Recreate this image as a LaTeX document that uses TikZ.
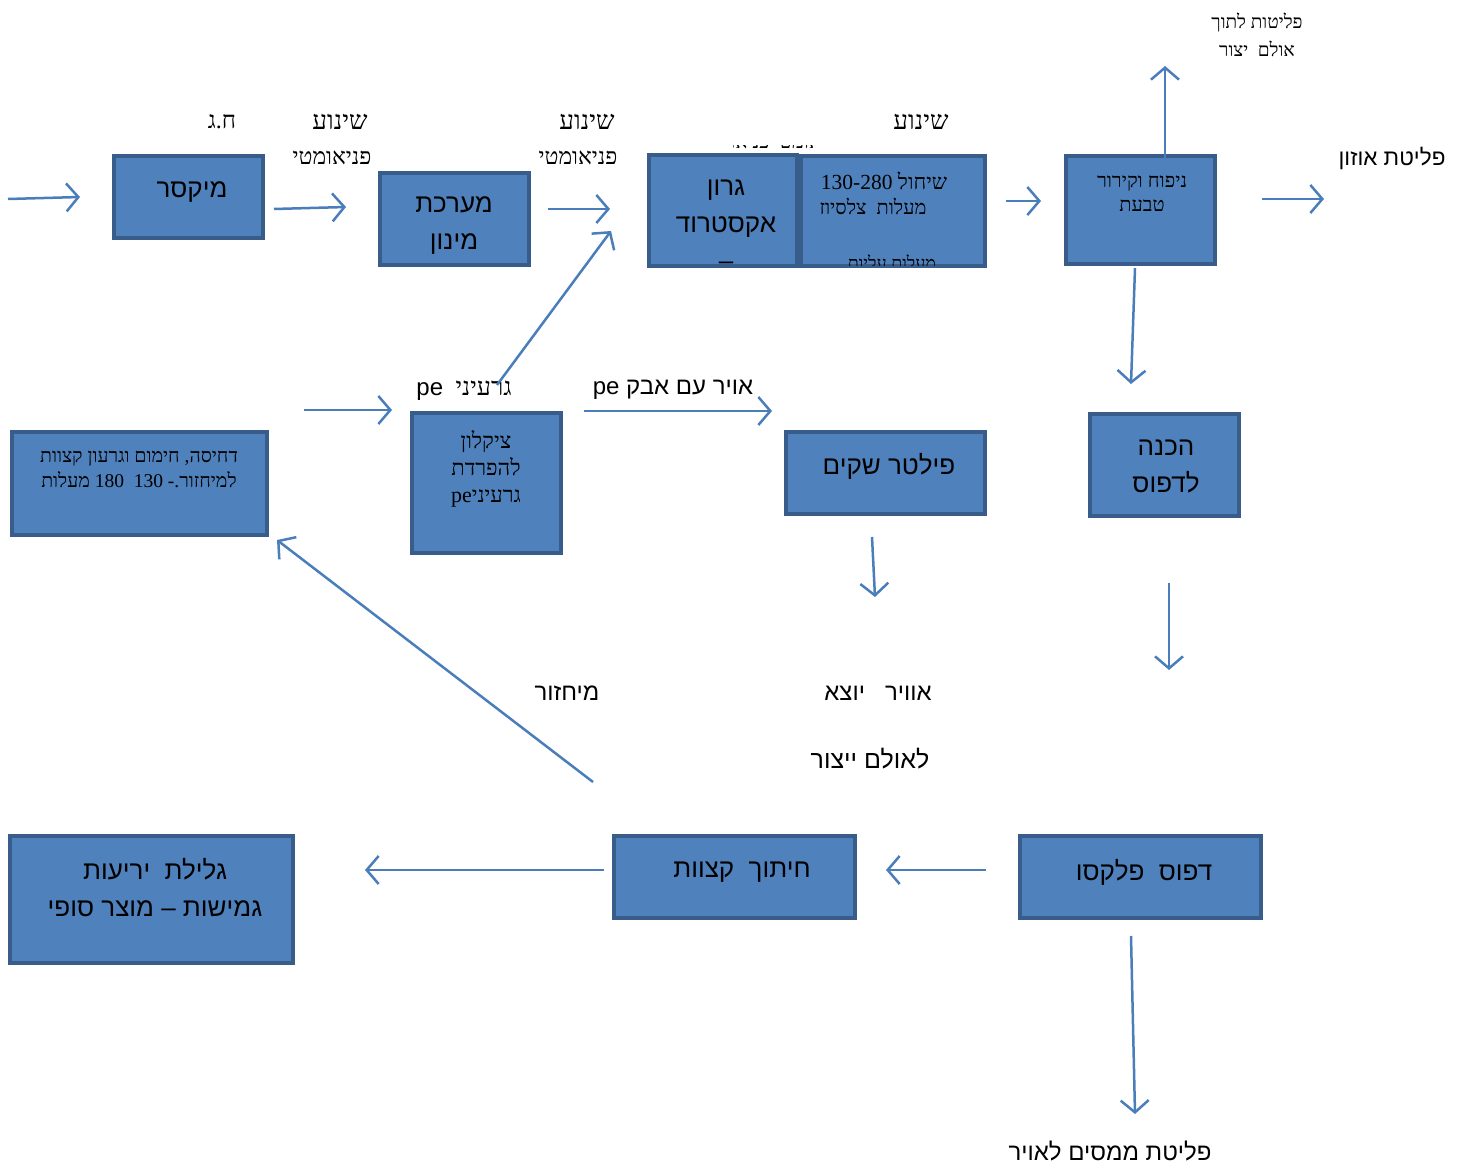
\documentclass[tikz,border=0pt]{standalone}
\usepackage{fontspec}
\usetikzlibrary{arrows.meta}
\setmainfont{Liberation Serif}
\newfontfamily\hsans[Script=Hebrew]{Liberation Sans}
\newfontfamily\hserif[Script=Hebrew]{Liberation Serif}
\TeXXeTstate=1
\newcommand\heb[1]{\beginR #1\endR}
\newcommand\lat[1]{\beginL #1\endL{}}
\definecolor{boxfill}{HTML}{4F81BD}
\definecolor{boxedge}{HTML}{385D8A}
\definecolor{arrowc}{HTML}{4A7EBB}
\tikzset{
  box/.style={draw=boxedge, fill=boxfill, line width=4pt, inner sep=0pt, outer sep=0pt},
  arr/.style={draw=arrowc, line width=2.5pt, -{Straight Barb[length=12pt,width=28pt]}},
  bigtxt/.style={font=\hsans\fontsize{26}{37}\selectfont, align=center, inner sep=0pt},
  smalltxt/.style={font=\hserif\fontsize{19.5}{25}\selectfont, align=center, inner sep=0pt},
  midtxt/.style={font=\hserif\fontsize{22}{27}\selectfont, align=center, inner sep=0pt},
  lbl/.style={font=\hserif\fontsize{26}{36}\selectfont, align=center, inner sep=0pt},
  lblsans/.style={font=\hsans\fontsize{24}{30}\selectfont, align=center, inner sep=0pt},
}
\begin{document}
\begin{tikzpicture}[x=1pt,y=-1pt]
\useasboundingbox (0,0) rectangle (1461,1169);

% ---------- boxes ----------
\node[box, minimum width=149pt, minimum height=82pt]  (mixer)   at (188.5,197) {};
\node[box, minimum width=149pt, minimum height=92pt]  (dosing)  at (454.5,219) {};
\node[box, minimum width=184pt, minimum height=110pt] (extr)    at (893,211) {};
\node[box, minimum width=148pt, minimum height=111pt] (throat)  at (723,210.5) {};
\node[box, minimum width=149pt, minimum height=108pt] (blow)    at (1140.5,210) {};
\node[box, minimum width=149pt, minimum height=102pt] (prep)    at (1164.5,465) {};
\node[box, minimum width=199pt, minimum height=82pt]  (filter)  at (885.5,473) {};
\node[box, minimum width=149pt, minimum height=140pt] (cyclone) at (486.5,483) {};
\node[box, minimum width=255pt, minimum height=103pt] (comp)    at (139.5,483.5) {};
\node[box, minimum width=241pt, minimum height=82pt]  (flexo)   at (1140.5,877) {};
\node[box, minimum width=241pt, minimum height=82pt]  (trim)    at (734.5,877) {};
\node[box, minimum width=283pt, minimum height=127pt] (roll)    at (151.5,899.5) {};

% ---------- clipped text above the throat box ----------
\begin{scope}
\clip (733,146) rectangle (812,152);
\node[font=\hserif\fontsize{20}{25}\selectfont, inner sep=0pt] (tover) at (772,143) {\heb{פניאומטי~פניאומטי}};
\end{scope}

% ---------- box texts ----------
\node[bigtxt] (tmixer) at (192,192) {\heb{מיקסר}};
\node[bigtxt] (tdosing) at (454,226) {\heb{מערכת}\\\heb{מינון}};
\begin{scope}
\clip (650,156) rectangle (796,265);
\node[bigtxt] (tthroat) at (726,225) {\heb{גרון}\\\heb{אקסטרוד}\\\heb{–}};
\end{scope}
\begin{scope}
\clip (801,156) rectangle (984,265);
\node[font=\hserif\fontsize{21.5}{25}\selectfont, inner sep=0pt] (textr1) at (884,181) {\heb{שיחול \lat{130-280}}};
\node[font=\hserif\fontsize{20}{25}\selectfont, inner sep=0pt] (textr2) at (873,206) {\heb{מעלות~~צלסיוז}};
\node[font=\hserif\fontsize{18}{25}\selectfont, inner sep=0pt] (textr3) at (892,262) {\heb{מעלות עליות}};
\end{scope}
\node[smalltxt, font=\hserif\fontsize{20}{24}\selectfont] (tblow) at (1142,194) {\heb{ניפוח וקירור}\\\heb{טבעת}};
\node[bigtxt] (tprep) at (1166,466) {\heb{הכנה}\\\heb{לדפוס}};
\node[bigtxt] (tfilter) at (889,466) {\heb{פילטר שקים}};
\node[midtxt] (tcyclone) at (486,469) {\heb{ציקלון}\\\heb{להפרדת}\\\heb{גרעיני\lat{pe}}};
\node[smalltxt] (tcomp) at (139,469) {\heb{דחיסה, חימום וגרעון קצוות}\\\heb{למיחזור.- \lat{130}~~\lat{180} מעלות}};
\node[bigtxt] (tflexo) at (1144,872) {\heb{דפוס~~פלקסו}};
\node[bigtxt] (ttrim) at (742,872) {\heb{חיתוך~~קצוות}};
\node[bigtxt] (troll) at (155,888) {\heb{גלילת~~יריעות}\\\heb{גמישות – מוצר סופי}};

% ---------- labels ----------
\node[lbl, font=\hserif\fontsize{24}{30}\selectfont] (lhg) at (222,122) {\heb{ח.ג}};
\node[lbl] (lsh1) at (340,122) {\heb{שינוע}};
\node[lbl, font=\hserif\fontsize{23}{25}\selectfont] (lpn1) at (332,158) {\heb{פניאומטי}};
\node[lbl] (lsh2) at (587,122) {\heb{שינוע}};
\node[lbl, font=\hserif\fontsize{23}{25}\selectfont] (lpn2) at (578,158) {\heb{פניאומטי}};
\node[lbl] (lsh3) at (921,122) {\heb{שינוע}};
\node[smalltxt, font=\hserif\fontsize{19}{28}\selectfont] (lemit) at (1257,35) {\heb{פליטות לתוך}\\\heb{אולם~~יצור}};
\node[lblsans, font=\hsans\fontsize{22.5}{28}\selectfont] (lozone) at (1392,158) {\heb{פליטת אוזון}};
\node[inner sep=0pt] (lgr) at (464,391) {\heb{{\hserif\fontsize{25}{28}\selectfont גרעיני~~}\lat{{\hsans\fontsize{24}{28}\selectfont pe}}}};
\node[lblsans] (ldust) at (673,390) {\heb{אויר עם אבק \lat{pe}}};
\node[lblsans] (lrec) at (567,693) {\heb{מיחזור}};
\node[lblsans] (lout) at (878,693) {\heb{אוויר~~~יוצא}};
\node[lblsans, font=\hsans\fontsize{25}{30}\selectfont] (lhall) at (870,759) {\heb{לאולם ייצור}};
\node[lblsans] (lsolv) at (1110,1151) {\heb{פליטת ממסים לאויר}};

% ---------- arrow end points ----------
\coordinate (a1s) at (8,199);    \coordinate (a1e) at (80,197);
\coordinate (a2s) at (274,209);  \coordinate (a2e) at (346,207);
\coordinate (a3s) at (548,209);  \coordinate (a3e) at (610,209);
\coordinate (a4s) at (497,385);  \coordinate (a4e) at (611,231);
\coordinate (a5s) at (1006,201); \coordinate (a5e) at (1041,201);
\coordinate (a6s) at (1262,199); \coordinate (a6e) at (1324,199);
\coordinate (a7s) at (1165,160); \coordinate (a7e) at (1165,66);
\coordinate (a8s) at (1135,268); \coordinate (a8e) at (1131,384);
\coordinate (a9s) at (304,410);  \coordinate (a9e) at (392,410);
\coordinate (a10s) at (584,411); \coordinate (a10e) at (772,411);
\coordinate (a11s) at (872,537); \coordinate (a11e) at (875,597);
\coordinate (a12s) at (1169,583);\coordinate (a12e) at (1169,670);
\coordinate (a13s) at (593,782); \coordinate (a13e) at (277,540);
\coordinate (a14s) at (986,870); \coordinate (a14e) at (886,870);
\coordinate (a15s) at (604,870); \coordinate (a15e) at (365,870);
\coordinate (a16s) at (1131,936);\coordinate (a16e) at (1135,1114);

\foreach \i in {1,...,16} { \draw[arr] (a\i s) -- (a\i e); }
\end{tikzpicture}
\end{document}
